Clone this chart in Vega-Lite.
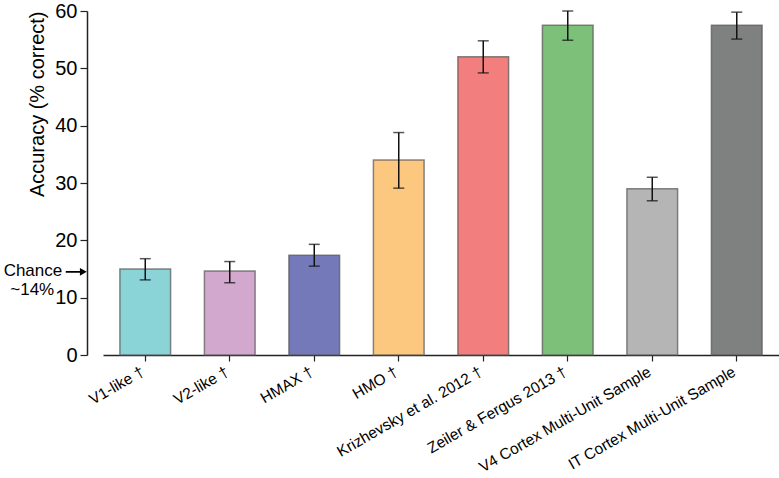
{
  "$schema": "https://vega.github.io/schema/vega-lite/v6.json",
  "width": 676,
  "height": 344,
  "autosize": "none",
  "padding": {"left": 103, "top": 11, "right": 0, "bottom": 123},
  "background": "white",
  "config": {
    "view": {"stroke": null},
    "font": "Liberation Sans",
    "axis": {"labelFont": "Liberation Sans", "titleFont": "Liberation Sans", "domainColor": "#222", "tickColor": "#222", "labelColor": "#000", "titleColor": "#000", "grid": false, "domainWidth": 1.5, "tickWidth": 1.2},
    "axisY": {"offset": 16, "tickSize": 7, "labelFontSize": 20, "titleFontSize": 20, "titleFontWeight": "normal", "titleAnchor": "end", "titlePadding": 7, "labelPadding": 3, "labelOverlap": false}
  },
  "data": {
    "values": [
      {"model": "V1-like †", "acc": 15.0, "lo": 13.1, "hi": 16.8, "color": "#8AD3D7"},
      {"model": "V2-like †", "acc": 14.65, "lo": 12.6, "hi": 16.3, "color": "#D3A8CF"},
      {"model": "HMAX †", "acc": 17.4, "lo": 15.5, "hi": 19.3, "color": "#7479B9"},
      {"model": "HMO †", "acc": 34.0, "lo": 29.1, "hi": 38.8, "color": "#FCC77F"},
      {"model": "Krizhevsky et al. 2012 †", "acc": 52.0, "lo": 49.2, "hi": 54.8, "color": "#F27E7E"},
      {"model": "Zeiler & Fergus 2013 †", "acc": 57.5, "lo": 54.9, "hi": 60.0, "color": "#7DC07A"},
      {"model": "V4 Cortex Multi-Unit Sample", "acc": 29.0, "lo": 26.9, "hi": 31.0, "color": "#B4B5B4"},
      {"model": "IT Cortex Multi-Unit Sample", "acc": 57.5, "lo": 55.1, "hi": 59.8, "color": "#7F8080"}
    ]
  },
  "encoding": {
    "x": {
      "field": "model", "type": "nominal", "sort": null,
      "scale": {"paddingInner": 0.4, "paddingOuter": 0.2},
      "axis": {"title": null, "labelAngle": -30, "labelFontSize": 15.5, "tickSize": 6, "labelPadding": 3, "labelOffset": -6, "labelLimit": 400}
    }
  },
  "layer": [
    {
      "mark": {"type": "bar", "stroke": "#555", "strokeWidth": 1.5, "strokeOpacity": 0.7},
      "encoding": {
        "y": {
          "field": "acc", "type": "quantitative",
          "scale": {"domain": [0, 60], "nice": false},
          "axis": {"title": "Accuracy (% correct)", "values": [0, 10, 20, 30, 40, 50, 60]}
        },
        "fill": {"field": "color", "type": "nominal", "scale": null}
      }
    },
    {
      "mark": {"type": "rule", "color": "#111", "strokeWidth": 1.5},
      "encoding": {
        "y": {"field": "lo", "type": "quantitative", "axis": {"title": "Accuracy (% correct)", "values": [0, 10, 20, 30, 40, 50, 60]}},
        "y2": {"field": "hi"}
      }
    },
    {
      "mark": {"type": "tick", "color": "#111", "thickness": 1.5, "size": 11, "orient": "horizontal"},
      "encoding": {"y": {"field": "lo", "type": "quantitative", "axis": {"title": "Accuracy (% correct)", "values": [0, 10, 20, 30, 40, 50, 60]}}}
    },
    {
      "mark": {"type": "tick", "color": "#111", "thickness": 1.5, "size": 11, "orient": "horizontal"},
      "encoding": {"y": {"field": "hi", "type": "quantitative", "axis": {"title": "Accuracy (% correct)", "values": [0, 10, 20, 30, 40, 50, 60]}}}
    },
    {
      "data": {"values": [{"label": "Chance", "v": 14.6}]},
      "mark": {"type": "text", "align": "right", "baseline": "middle", "fontSize": 17, "dx": -83, "color": "#000"},
      "encoding": {
        "x": {"datum": "V1-like †"},
        "y": {"field": "v", "type": "quantitative", "axis": {"title": "Accuracy (% correct)", "values": [0, 10, 20, 30, 40, 50, 60]}},
        "text": {"field": "label"}
      }
    },
    {
      "data": {"values": [{"label": "~14%", "v": 14.6}]},
      "mark": {"type": "text", "align": "center", "baseline": "middle", "fontSize": 17, "dx": -113, "dy": 19, "color": "#000"},
      "encoding": {
        "x": {"datum": "V1-like †"},
        "y": {"field": "v", "type": "quantitative", "axis": {"title": "Accuracy (% correct)", "values": [0, 10, 20, 30, 40, 50, 60]}},
        "text": {"field": "label"}
      }
    },
    {
      "data": {"values": [{"v": 14.5}]},
      "mark": {"type": "point", "shape": "M-1,-0.08L0.35,-0.08L0.35,-0.36L1,0L0.35,0.36L0.35,0.08L-1,0.08Z", "filled": true, "color": "#000", "opacity": 1, "size": 440, "xOffset": -69},
      "encoding": {
        "x": {"datum": "V1-like †"},
        "y": {"field": "v", "type": "quantitative", "axis": {"title": "Accuracy (% correct)", "values": [0, 10, 20, 30, 40, 50, 60]}}
      }
    }
  ]
}
